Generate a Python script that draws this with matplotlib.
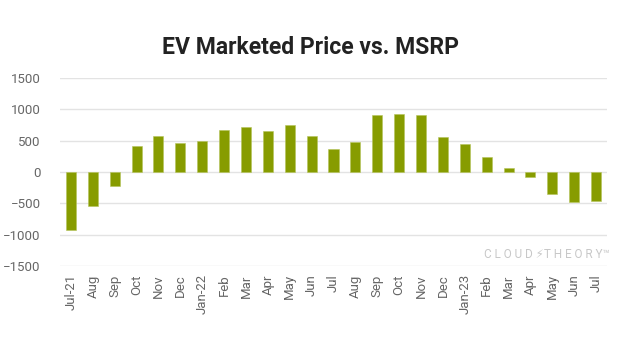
import numpy as np
import matplotlib.pyplot as plt

plt.rcParams['font.family'] = ['Roboto', 'DejaVu Sans']

## Δεδομένα
months = ['Jul-21', 'Aug', 'Sep', 'Oct', 'Nov', 'Dec', 'Jan-22', 'Feb', 'Mar', 'Apr',
          'May', 'Jun', 'Jul', 'Aug', 'Sep', 'Oct', 'Nov', 'Dec', 'Jan-23', 'Feb',
          'Mar', 'Apr', 'May', 'Jun', 'Jul']
price_gap = [-930, -550, -220, 410, 570, 458, 495, 665, 723, 660,
             755, 580, 367, 474, 910, 926, 915, 559, 447, 234,
             64, -80, -351, -479, -458]
yticks = [-1500, -1000, -500, 0, 500, 1000, 1500]

fig = plt.figure(figsize=(6.24, 3.64), dpi=100)
ax = fig.add_axes([60/624, 1-266/364, 547/624, 188/364])

x = np.arange(len(months))
ax.bar(x, price_gap, width=0.46, color='#879C00', edgecolor='#b5c45a', linewidth=0.4, zorder=3)

ax.set_xlim(-0.5, len(months) - 0.5)
ax.set_ylim(-1500, 1500)
ax.set_yticks(yticks)
ax.set_xticks(x)
ax.set_xticklabels(months, rotation=90)
ax.tick_params(axis='both', length=0, labelsize=9.5, colors='#666666')
ax.tick_params(axis='y', pad=14)
ax.tick_params(axis='x', pad=6)
ax.grid(axis='y', color='#e3e3e3', linewidth=1, zorder=0)
for s in ax.spines.values():
    s.set_visible(False)

fig.text(0.497, 1-48/364, 'EV Marketed Price vs. MSRP', ha='center', va='center',
         fontsize=16.5, fontweight='bold', color='#222222')
# υδατογράφημα
fig.text(610/624, 1-254/364, 'C L O U D \u26A1T H E O R Y\u2122', ha='right', va='center',
         fontsize=8.5, color='#c8c8c8')

fig.savefig('out.png', dpi=100)
